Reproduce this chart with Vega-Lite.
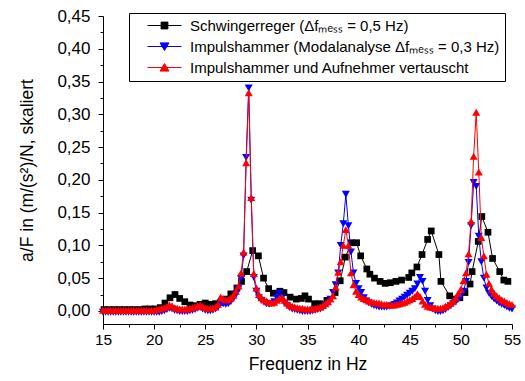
{
"$schema": "https://vega.github.io/schema/vega-lite/v6.json",
"width": 409, "height": 308,
"autosize": "none",
"padding": {"left": 103, "top": 16, "right": 13, "bottom": 57},
"config": {"font": "Liberation Sans", "view": {"stroke": null},
  "axis": {"domainColor": "black", "tickColor": "black", "labelColor": "black", "titleColor": "black", "grid": false, "labelFlush": false, "labelOverlap": false}},
"data": {"values": [
{"s":"S","f":15.1,"v":0.002},{"s":"S","f":15.6,"v":0.002},{"s":"S","f":16.1,"v":0.002},{"s":"S","f":16.6,"v":0.002},{"s":"S","f":17.1,"v":0.002},{"s":"S","f":17.6,"v":0.002},{"s":"S","f":18.1,"v":0.002},{"s":"S","f":18.6,"v":0.002},{"s":"S","f":19.1,"v":0.003},{"s":"S","f":19.6,"v":0.003},{"s":"S","f":20.1,"v":0.003},{"s":"S","f":20.6,"v":0.005},{"s":"S","f":21.06,"v":0.012},{"s":"S","f":21.55,"v":0.02},{"s":"S","f":22.04,"v":0.025},{"s":"S","f":22.5,"v":0.019},{"s":"S","f":23.0,"v":0.014},{"s":"S","f":23.5,"v":0.009},{"s":"S","f":24.0,"v":0.008},{"s":"S","f":24.5,"v":0.01},{"s":"S","f":25.0,"v":0.012},{"s":"S","f":25.5,"v":0.01},{"s":"S","f":26.0,"v":0.011},{"s":"S","f":26.5,"v":0.013},{"s":"S","f":27.0,"v":0.018},{"s":"S","f":27.5,"v":0.026},{"s":"S","f":28.1,"v":0.035},{"s":"S","f":28.55,"v":0.045},{"s":"S","f":29.05,"v":0.06},{"s":"S","f":29.64,"v":0.092},{"s":"S","f":30.2,"v":0.084},{"s":"S","f":30.7,"v":0.05},{"s":"S","f":31.2,"v":0.034},{"s":"S","f":31.66,"v":0.027},{"s":"S","f":32.3,"v":0.03},{"s":"S","f":32.7,"v":0.028},{"s":"S","f":33.3,"v":0.021},{"s":"S","f":33.9,"v":0.018},{"s":"S","f":34.4,"v":0.019},{"s":"S","f":34.75,"v":0.023},{"s":"S","f":35.1,"v":0.018},{"s":"S","f":35.7,"v":0.011},{"s":"S","f":36.2,"v":0.011},{"s":"S","f":36.9,"v":0.016},{"s":"S","f":37.7,"v":0.028},{"s":"S","f":38.2,"v":0.046},{"s":"S","f":38.7,"v":0.082},{"s":"S","f":39.3,"v":0.104},{"s":"S","f":39.8,"v":0.104},{"s":"S","f":40.2,"v":0.084},{"s":"S","f":40.8,"v":0.064},{"s":"S","f":41.1,"v":0.056},{"s":"S","f":41.55,"v":0.05},{"s":"S","f":42.1,"v":0.045},{"s":"S","f":42.6,"v":0.042},{"s":"S","f":43.1,"v":0.043},{"s":"S","f":43.65,"v":0.045},{"s":"S","f":44.2,"v":0.047},{"s":"S","f":44.9,"v":0.051},{"s":"S","f":45.2,"v":0.058},{"s":"S","f":45.7,"v":0.067},{"s":"S","f":46.2,"v":0.086},{"s":"S","f":46.75,"v":0.109},{"s":"S","f":47.1,"v":0.122},{"s":"S","f":47.85,"v":0.086},{"s":"S","f":48.05,"v":0.045},{"s":"S","f":48.9,"v":0.023},{"s":"S","f":49.4,"v":0.018},{"s":"S","f":49.9,"v":0.02},{"s":"S","f":50.4,"v":0.028},{"s":"S","f":50.9,"v":0.041},{"s":"S","f":51.1,"v":0.06},{"s":"S","f":51.7,"v":0.106},{"s":"S","f":52.05,"v":0.144},{"s":"S","f":52.65,"v":0.12},{"s":"S","f":53.1,"v":0.08},{"s":"S","f":53.8,"v":0.06},{"s":"S","f":54.2,"v":0.047},{"s":"S","f":54.6,"v":0.045},
{"s":"I","f":15,"v":-0.002},{"s":"I","f":15.25,"v":-0.002},{"s":"I","f":15.5,"v":-0.002},{"s":"I","f":15.75,"v":-0.002},{"s":"I","f":16,"v":-0.002},{"s":"I","f":16.25,"v":-0.002},{"s":"I","f":16.5,"v":-0.002},{"s":"I","f":16.75,"v":-0.002},{"s":"I","f":17,"v":-0.002},{"s":"I","f":17.25,"v":-0.002},{"s":"I","f":17.5,"v":-0.002},{"s":"I","f":17.75,"v":-0.002},{"s":"I","f":18,"v":-0.002},{"s":"I","f":18.25,"v":-0.002},{"s":"I","f":18.5,"v":-0.002},{"s":"I","f":18.75,"v":-0.002},{"s":"I","f":19,"v":-0.002},{"s":"I","f":19.25,"v":-0.002},{"s":"I","f":19.5,"v":-0.002},{"s":"I","f":19.75,"v":-0.002},{"s":"I","f":20,"v":-0.002},{"s":"I","f":20.25,"v":-0.002},{"s":"I","f":20.5,"v":-0.002},{"s":"I","f":20.75,"v":-0.001},{"s":"I","f":21,"v":0},{"s":"I","f":21.25,"v":0.002},{"s":"I","f":21.5,"v":0.004},{"s":"I","f":21.75,"v":0.003},{"s":"I","f":22,"v":0.001},{"s":"I","f":22.25,"v":0},{"s":"I","f":22.5,"v":-0.001},{"s":"I","f":22.75,"v":-0.001},{"s":"I","f":23,"v":-0.001},{"s":"I","f":23.25,"v":-0.001},{"s":"I","f":23.5,"v":0},{"s":"I","f":23.75,"v":0.001},{"s":"I","f":24,"v":0.002},{"s":"I","f":24.25,"v":0.004},{"s":"I","f":24.5,"v":0.005},{"s":"I","f":24.75,"v":0.003},{"s":"I","f":25,"v":0.001},{"s":"I","f":25.25,"v":0},{"s":"I","f":25.5,"v":0},{"s":"I","f":25.75,"v":0.001},{"s":"I","f":26,"v":0.003},{"s":"I","f":26.25,"v":0.006},{"s":"I","f":26.5,"v":0.012},{"s":"I","f":26.75,"v":0.011},{"s":"I","f":27,"v":0.01},{"s":"I","f":27.25,"v":0.011},{"s":"I","f":27.5,"v":0.014},{"s":"I","f":27.75,"v":0.019},{"s":"I","f":28,"v":0.025},{"s":"I","f":28.25,"v":0.034},{"s":"I","f":28.5,"v":0.049},{"s":"I","f":28.75,"v":0.084},{"s":"I","f":29,"v":0.234},{"s":"I","f":29.25,"v":0.34},{"s":"I","f":29.5,"v":0.169},{"s":"I","f":29.75,"v":0.051},{"s":"I","f":30,"v":0.03},{"s":"I","f":30.25,"v":0.02},{"s":"I","f":30.5,"v":0.016},{"s":"I","f":30.75,"v":0.013},{"s":"I","f":31,"v":0.011},{"s":"I","f":31.25,"v":0.01},{"s":"I","f":31.5,"v":0.011},{"s":"I","f":31.75,"v":0.014},{"s":"I","f":32,"v":0.02},{"s":"I","f":32.25,"v":0.027},{"s":"I","f":32.5,"v":0.02},{"s":"I","f":32.75,"v":0.012},{"s":"I","f":33,"v":0.008},{"s":"I","f":33.25,"v":0.005},{"s":"I","f":33.5,"v":0.003},{"s":"I","f":33.75,"v":0.002},{"s":"I","f":34,"v":0.001},{"s":"I","f":34.25,"v":0},{"s":"I","f":34.5,"v":-0.001},{"s":"I","f":34.75,"v":-0.001},{"s":"I","f":35,"v":-0.001},{"s":"I","f":35.25,"v":-0.001},{"s":"I","f":35.5,"v":0},{"s":"I","f":35.75,"v":0.001},{"s":"I","f":36,"v":0.002},{"s":"I","f":36.25,"v":0.003},{"s":"I","f":36.5,"v":0.005},{"s":"I","f":36.75,"v":0.008},{"s":"I","f":37,"v":0.012},{"s":"I","f":37.25,"v":0.018},{"s":"I","f":37.5,"v":0.028},{"s":"I","f":37.75,"v":0.04},{"s":"I","f":38,"v":0.058},{"s":"I","f":38.25,"v":0.1},{"s":"I","f":38.5,"v":0.133},{"s":"I","f":38.75,"v":0.178},{"s":"I","f":39,"v":0.13},{"s":"I","f":39.25,"v":0.09},{"s":"I","f":39.5,"v":0.058},{"s":"I","f":39.75,"v":0.042},{"s":"I","f":40,"v":0.034},{"s":"I","f":40.25,"v":0.028},{"s":"I","f":40.5,"v":0.02},{"s":"I","f":40.75,"v":0.015},{"s":"I","f":41,"v":0.012},{"s":"I","f":41.25,"v":0.01},{"s":"I","f":41.5,"v":0.008},{"s":"I","f":41.75,"v":0.007},{"s":"I","f":42,"v":0.006},{"s":"I","f":42.25,"v":0.006},{"s":"I","f":42.5,"v":0.006},{"s":"I","f":42.75,"v":0.006},{"s":"I","f":43,"v":0.007},{"s":"I","f":43.25,"v":0.008},{"s":"I","f":43.5,"v":0.01},{"s":"I","f":43.75,"v":0.012},{"s":"I","f":44,"v":0.015},{"s":"I","f":44.25,"v":0.018},{"s":"I","f":44.5,"v":0.021},{"s":"I","f":44.75,"v":0.024},{"s":"I","f":45,"v":0.027},{"s":"I","f":45.25,"v":0.03},{"s":"I","f":45.5,"v":0.034},{"s":"I","f":45.75,"v":0.041},{"s":"I","f":46,"v":0.051},{"s":"I","f":46.25,"v":0.045},{"s":"I","f":46.5,"v":0.03},{"s":"I","f":46.75,"v":0.016},{"s":"I","f":47,"v":0.008},{"s":"I","f":47.25,"v":0.003},{"s":"I","f":47.5,"v":0},{"s":"I","f":47.75,"v":-0.001},{"s":"I","f":48,"v":-0.001},{"s":"I","f":48.25,"v":0},{"s":"I","f":48.5,"v":0.002},{"s":"I","f":48.75,"v":0.005},{"s":"I","f":49,"v":0.008},{"s":"I","f":49.25,"v":0.011},{"s":"I","f":49.5,"v":0.014},{"s":"I","f":49.75,"v":0.018},{"s":"I","f":50,"v":0.022},{"s":"I","f":50.25,"v":0.03},{"s":"I","f":50.5,"v":0.045},{"s":"I","f":50.75,"v":0.074},{"s":"I","f":51,"v":0.13},{"s":"I","f":51.25,"v":0.196},{"s":"I","f":51.5,"v":0.19},{"s":"I","f":51.75,"v":0.114},{"s":"I","f":52,"v":0.075},{"s":"I","f":52.25,"v":0.05},{"s":"I","f":52.5,"v":0.035},{"s":"I","f":52.75,"v":0.027},{"s":"I","f":53,"v":0.022},{"s":"I","f":53.25,"v":0.018},{"s":"I","f":53.5,"v":0.015},{"s":"I","f":53.75,"v":0.012},{"s":"I","f":54,"v":0.01},{"s":"I","f":54.25,"v":0.008},{"s":"I","f":54.5,"v":0.006},{"s":"I","f":54.75,"v":0.004},{"s":"I","f":55,"v":0.003},
{"s":"V","f":15,"v":0.001},{"s":"V","f":15.25,"v":0.001},{"s":"V","f":15.5,"v":0.001},{"s":"V","f":15.75,"v":0.001},{"s":"V","f":16,"v":0.001},{"s":"V","f":16.25,"v":0.001},{"s":"V","f":16.5,"v":0.001},{"s":"V","f":16.75,"v":0.001},{"s":"V","f":17,"v":0.001},{"s":"V","f":17.25,"v":0.001},{"s":"V","f":17.5,"v":0.001},{"s":"V","f":17.75,"v":0.001},{"s":"V","f":18,"v":0.001},{"s":"V","f":18.25,"v":0.001},{"s":"V","f":18.5,"v":0.001},{"s":"V","f":18.75,"v":0.001},{"s":"V","f":19,"v":0.001},{"s":"V","f":19.25,"v":0.001},{"s":"V","f":19.5,"v":0.001},{"s":"V","f":19.75,"v":0.001},{"s":"V","f":20,"v":0.001},{"s":"V","f":20.25,"v":0.002},{"s":"V","f":20.5,"v":0.003},{"s":"V","f":20.75,"v":0.004},{"s":"V","f":21,"v":0.005},{"s":"V","f":21.25,"v":0.007},{"s":"V","f":21.5,"v":0.009},{"s":"V","f":21.75,"v":0.008},{"s":"V","f":22,"v":0.005},{"s":"V","f":22.25,"v":0.004},{"s":"V","f":22.5,"v":0.003},{"s":"V","f":22.75,"v":0.003},{"s":"V","f":23,"v":0.003},{"s":"V","f":23.25,"v":0.003},{"s":"V","f":23.5,"v":0.004},{"s":"V","f":23.75,"v":0.005},{"s":"V","f":24,"v":0.006},{"s":"V","f":24.25,"v":0.008},{"s":"V","f":24.5,"v":0.009},{"s":"V","f":24.75,"v":0.007},{"s":"V","f":25,"v":0.005},{"s":"V","f":25.25,"v":0.004},{"s":"V","f":25.5,"v":0.004},{"s":"V","f":25.75,"v":0.005},{"s":"V","f":26,"v":0.006},{"s":"V","f":26.25,"v":0.01},{"s":"V","f":26.5,"v":0.021},{"s":"V","f":26.75,"v":0.019},{"s":"V","f":27,"v":0.017},{"s":"V","f":27.25,"v":0.017},{"s":"V","f":27.5,"v":0.02},{"s":"V","f":27.75,"v":0.024},{"s":"V","f":28,"v":0.03},{"s":"V","f":28.25,"v":0.038},{"s":"V","f":28.5,"v":0.058},{"s":"V","f":28.75,"v":0.09},{"s":"V","f":29,"v":0.226},{"s":"V","f":29.25,"v":0.333},{"s":"V","f":29.5,"v":0.173},{"s":"V","f":29.75,"v":0.057},{"s":"V","f":30,"v":0.035},{"s":"V","f":30.25,"v":0.025},{"s":"V","f":30.5,"v":0.02},{"s":"V","f":30.75,"v":0.017},{"s":"V","f":31,"v":0.015},{"s":"V","f":31.25,"v":0.013},{"s":"V","f":31.5,"v":0.012},{"s":"V","f":31.75,"v":0.013},{"s":"V","f":32,"v":0.016},{"s":"V","f":32.25,"v":0.019},{"s":"V","f":32.5,"v":0.021},{"s":"V","f":32.75,"v":0.016},{"s":"V","f":33,"v":0.012},{"s":"V","f":33.25,"v":0.009},{"s":"V","f":33.5,"v":0.007},{"s":"V","f":33.75,"v":0.006},{"s":"V","f":34,"v":0.005},{"s":"V","f":34.25,"v":0.004},{"s":"V","f":34.5,"v":0.004},{"s":"V","f":34.75,"v":0.003},{"s":"V","f":35,"v":0.003},{"s":"V","f":35.25,"v":0.003},{"s":"V","f":35.5,"v":0.003},{"s":"V","f":35.75,"v":0.004},{"s":"V","f":36,"v":0.005},{"s":"V","f":36.25,"v":0.006},{"s":"V","f":36.5,"v":0.008},{"s":"V","f":36.75,"v":0.011},{"s":"V","f":37,"v":0.014},{"s":"V","f":37.25,"v":0.018},{"s":"V","f":37.5,"v":0.023},{"s":"V","f":37.75,"v":0.036},{"s":"V","f":38,"v":0.059},{"s":"V","f":38.25,"v":0.075},{"s":"V","f":38.5,"v":0.1},{"s":"V","f":38.75,"v":0.124},{"s":"V","f":39,"v":0.1},{"s":"V","f":39.25,"v":0.058},{"s":"V","f":39.5,"v":0.04},{"s":"V","f":39.75,"v":0.03},{"s":"V","f":40,"v":0.025},{"s":"V","f":40.25,"v":0.021},{"s":"V","f":40.5,"v":0.019},{"s":"V","f":40.75,"v":0.017},{"s":"V","f":41,"v":0.015},{"s":"V","f":41.25,"v":0.014},{"s":"V","f":41.5,"v":0.013},{"s":"V","f":41.75,"v":0.012},{"s":"V","f":42,"v":0.012},{"s":"V","f":42.25,"v":0.011},{"s":"V","f":42.5,"v":0.01},{"s":"V","f":42.75,"v":0.01},{"s":"V","f":43,"v":0.009},{"s":"V","f":43.25,"v":0.009},{"s":"V","f":43.5,"v":0.009},{"s":"V","f":43.75,"v":0.01},{"s":"V","f":44,"v":0.011},{"s":"V","f":44.25,"v":0.012},{"s":"V","f":44.5,"v":0.013},{"s":"V","f":44.75,"v":0.015},{"s":"V","f":45,"v":0.017},{"s":"V","f":45.25,"v":0.019},{"s":"V","f":45.5,"v":0.022},{"s":"V","f":45.75,"v":0.026},{"s":"V","f":46,"v":0.022},{"s":"V","f":46.25,"v":0.015},{"s":"V","f":46.5,"v":0.01},{"s":"V","f":46.75,"v":0.007},{"s":"V","f":47,"v":0.006},{"s":"V","f":47.25,"v":0.005},{"s":"V","f":47.5,"v":0.004},{"s":"V","f":47.75,"v":0.004},{"s":"V","f":48,"v":0.004},{"s":"V","f":48.25,"v":0.005},{"s":"V","f":48.5,"v":0.007},{"s":"V","f":48.75,"v":0.009},{"s":"V","f":49,"v":0.012},{"s":"V","f":49.25,"v":0.015},{"s":"V","f":49.5,"v":0.02},{"s":"V","f":49.75,"v":0.027},{"s":"V","f":50,"v":0.033},{"s":"V","f":50.25,"v":0.046},{"s":"V","f":50.5,"v":0.058},{"s":"V","f":50.75,"v":0.087},{"s":"V","f":51,"v":0.137},{"s":"V","f":51.25,"v":0.236},{"s":"V","f":51.5,"v":0.303},{"s":"V","f":51.75,"v":0.212},{"s":"V","f":52,"v":0.112},{"s":"V","f":52.25,"v":0.084},{"s":"V","f":52.5,"v":0.056},{"s":"V","f":52.75,"v":0.042},{"s":"V","f":53,"v":0.033},{"s":"V","f":53.25,"v":0.027},{"s":"V","f":53.5,"v":0.023},{"s":"V","f":53.75,"v":0.02},{"s":"V","f":54,"v":0.017},{"s":"V","f":54.25,"v":0.015},{"s":"V","f":54.5,"v":0.013},{"s":"V","f":54.75,"v":0.011},{"s":"V","f":55,"v":0.01}
]},
"layer": [
 {
  "encoding": {
   "x": {"field": "f", "type": "quantitative", "scale": {"domain": [15, 55], "nice": false, "zero": false},
     "axis": {"values": [15,20,25,30,35,40,45,50,55], "tickSize": 5, "labelFontSize": 15.5, "labelPadding": 3, "title": "Frequenz in Hz", "titleFontSize": 17.5, "titleFontWeight": "normal", "titlePadding": 8}},
   "y": {"field": "v", "type": "quantitative", "scale": {"domain": [-0.02, 0.45], "nice": false, "zero": false},
     "axis": {"values": [0,0.05,0.1,0.15,0.2,0.25,0.3,0.35,0.4,0.45], "tickSize": 5, "labelFontSize": 17, "labelPadding": 8,
       "labelExpr": "replace(format(datum.value, '.2f'), '.', ',')",
       "title": "a/F in (m/(s²)/N, skaliert", "titleFontSize": 17.5, "titleFontWeight": "normal", "titlePadding": 20}},
   "color": {"field": "s", "type": "nominal", "scale": {"domain": ["S","I","V"], "range": ["#000000","#0000ff","#ff0000"]},
     "legend": {"orient": "none", "legendX": 26, "legendY": -3, "title": null, "direction": "vertical",
       "labelFontSize": 15, "labelLimit": 600, "labelColor": "black", "strokeColor": "black", "fillColor": "white", "padding": 5, "rowPadding": 5,
       "symbolSize": 64, "symbolOffset": 23, "labelOffset": 18,
       "labelExpr": "datum.value == 'S' ? 'Schwingerreger (Δfₘₑₛₛ = 0,5 Hz)' : datum.value == 'I' ? 'Impulshammer (Modalanalyse Δfₘₑₛₛ = 0,3 Hz)\u00a0\u00a0\u00a0\u00a0\u00a0' : 'Impulshammer und Aufnehmer vertauscht'",
       "encode": {"symbols": {"update": {
         "shape": {"signal": "datum.value == 'S' ? 'M-4.25,0H4.25M-0.85,-0.85H0.85V0.85H-0.85Z' : datum.value == 'I' ? 'M-4.25,0H4.25M-1.1,-0.9H1.1L0,1Z' : 'M-4.25,0H4.25M-1.1,0.9H1.1L0,-1Z'"},
         "fill": {"signal": "datum.value == 'S' ? '#000000' : datum.value == 'I' ? '#0000ff' : '#ff0000'"},
         "stroke": {"signal": "datum.value == 'S' ? '#000000' : datum.value == 'I' ? '#0000ff' : '#ff0000'"},
         "strokeWidth": {"value": 1}, "opacity": {"value": 1}, "fillOpacity": {"value": 1}, "strokeOpacity": {"value": 1}}}}}}
  },
  "layer": [
   {"transform": [{"filter": "datum.s == 'S'"}], "mark": {"type": "line", "strokeWidth": 1, "point": {"shape": "square", "filled": true, "size": 45}}},
   {"transform": [{"filter": "datum.s == 'I'"}], "mark": {"type": "line", "strokeWidth": 1, "point": {"shape": "triangle-down", "filled": true, "size": 64}}},
   {"transform": [{"filter": "datum.s == 'V'"}], "mark": {"type": "line", "strokeWidth": 1, "point": {"shape": "triangle-up", "filled": true, "size": 64}}}
  ]
 },
 {
  "transform": [{"filter": "false"}],
  "mark": {"type": "point"},
  "encoding": {
   "x": {"field": "f", "type": "quantitative", "axis": {"orient": "bottom", "values": [17.5,22.5,27.5,32.5,37.5,42.5,47.5,52.5], "tickSize": 3, "labels": false, "domain": false, "title": null}},
   "y": {"field": "v", "type": "quantitative", "axis": {"orient": "left", "values": [0.025,0.075,0.125,0.175,0.225,0.275,0.325,0.375,0.425], "tickSize": 3, "labels": false, "domain": false, "title": null}}
  }
 }
],
"resolve": {"axis": {"x": "independent", "y": "independent"}}
}
